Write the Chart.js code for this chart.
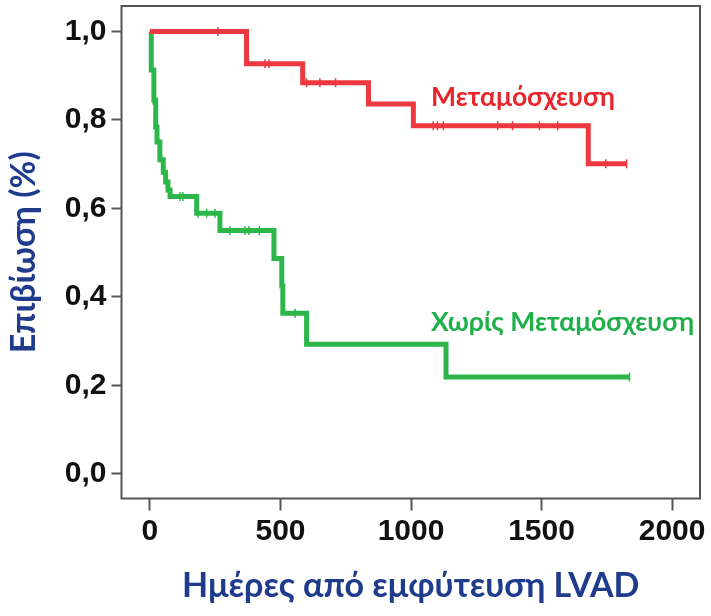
<!DOCTYPE html>
<html><head><meta charset="utf-8">
<script src="https://cdn.jsdelivr.net/npm/chart.js@4"></script>
<style>html,body{margin:0;padding:0;background:#fff;}#wrap{width:711px;height:616px;}</style>
</head><body><div id="wrap"><canvas id="c" width="711" height="616"></canvas></div>
<script>
// ---- data ----
const xTicks = [0, 500, 1000, 1500, 2000];
const yTicks = [0.0, 0.2, 0.4, 0.6, 0.8, 1.0];

// Transplant (Μεταμόσχευση) – event times (days) and survival after each step
const txTimes = [0, 370, 585, 837, 1009, 1679, 1826];
const txSurv  = [1.0, 0.927, 0.884, 0.836, 0.787, 0.701, 0.701];
// censored observations
const txCensT = [260, 441, 456, 600, 651, 711, 1085, 1101, 1124, 1332, 1389, 1492, 1562, 1746, 1826];
const txCensS = [1.0, 0.927, 0.927, 0.884, 0.884, 0.884, 0.787, 0.787, 0.787, 0.787, 0.787, 0.787, 0.787, 0.701, 0.701];

// No transplant (Χωρίς Μεταμόσχευση)
const noTimes = [0, 5, 15, 22, 27, 38, 51, 60, 69, 77, 179, 268, 475, 505, 509, 600, 1134, 1837];
const noSurv  = [1.0, 0.913, 0.845, 0.784, 0.750, 0.710, 0.682, 0.660, 0.642, 0.627, 0.589, 0.550, 0.487, 0.425, 0.363, 0.293, 0.219, 0.219];
const noCensT = [12, 33, 45, 115, 126, 184, 217, 249, 306, 364, 379, 419, 556, 1837];
const noCensS = [0.845, 0.750, 0.710, 0.627, 0.627, 0.589, 0.589, 0.589, 0.550, 0.550, 0.550, 0.550, 0.363, 0.219];

const txLabel = 'Μεταμόσχευση';
const noLabel = 'Χωρίς Μεταμόσχευση';
const xTitle = 'Ημέρες από εμφύτευση LVAD';
const yTitle = 'Επιβίωση (%)';

const RED = '#EE3840', GREEN = '#2DB64A', NAVY = '#1F3C8C', FRAME = '#555555';
const TITLE_FAMILY = 'Lato, "Open Sans", sans-serif';
const pts = (t, s) => t.map((v, i) => ({x: v, y: s[i]}));

const frame = {
  id: 'frame',
  beforeDatasetsDraw(chart) {
    const {ctx, chartArea: a} = chart;
    ctx.save(); ctx.strokeStyle = FRAME; ctx.lineWidth = 2;
    ctx.strokeRect(a.left, a.top, a.right - a.left, a.bottom - a.top);
    ctx.restore();
  }
};
const labels = {
  id: 'labels',
  afterDatasetsDraw(chart) {
    const {ctx} = chart;
    ctx.save();
    ctx.font = 'bold 26.5px ' + TITLE_FAMILY;
    ctx.textBaseline = 'middle'; ctx.textAlign = 'left';
    ctx.fillStyle = '#E8262C'; ctx.fillText(txLabel, 431, 97);
    ctx.fillStyle = '#20B04B'; ctx.fillText(noLabel, 431, 322);
    ctx.restore();
  }
};

const tickFont = {family: '"Liberation Sans", Arial, sans-serif', weight: 'bold', size: 30};
new Chart(document.getElementById('c'), {
  type: 'line',
  data: {
    datasets: [
      {data: pts(txTimes, txSurv), borderColor: RED, borderWidth: 5, stepped: 'before', pointRadius: 0, fill: false},
      {data: pts(noTimes, noSurv), borderColor: GREEN, borderWidth: 5, stepped: 'before', pointRadius: 0, fill: false},
      {type: 'scatter', data: pts(txCensT, txCensS), pointStyle: 'line', rotation: 90, radius: 4.5, borderColor: RED, borderWidth: 1.5, showLine: false},
      {type: 'scatter', data: pts(noCensT, noCensS), pointStyle: 'line', rotation: 90, radius: 4.5, borderColor: GREEN, borderWidth: 1.5, showLine: false}
    ]
  },
  options: {
    responsive: false, animation: false,
    layout: {padding: {left: 0, right: 11, top: 6, bottom: 0}},
    plugins: {legend: {display: false}, tooltip: {enabled: false}},
    scales: {
      x: {
        type: 'linear', min: -109, max: 2107,
        afterBuildTicks: s => { s.ticks = xTicks.map(v => ({value: v})); },
        afterFit: s => { s.height = 117.5; s.paddingLeft = 0; s.paddingRight = 0; },
        border: {display: false},
        grid: {drawOnChartArea: false, drawTicks: true, tickLength: 12, tickWidth: 2, tickColor: FRAME},
        ticks: {font: tickFont, color: '#111', padding: 3, maxRotation: 0, autoSkip: false, callback: v => String(v)},
        title: {display: true, text: xTitle, color: NAVY, font: {family: TITLE_FAMILY, weight: 'bold', size: 34}, padding: {top: 0, bottom: 10}}
      },
      y: {
        type: 'linear', min: -0.0554, max: 1.0576,
        afterBuildTicks: s => { s.ticks = yTicks.map(v => ({value: v})); },
        afterFit: s => { s.width = 121.5; s.paddingTop = 0; s.paddingBottom = 0; },
        border: {display: false},
        grid: {drawOnChartArea: false, drawTicks: true, tickLength: 10, tickWidth: 2, tickColor: FRAME},
        ticks: {font: tickFont, color: '#111', padding: 5, callback: v => v.toFixed(1).replace('.', ',')},
        title: {display: true, text: yTitle, color: NAVY, font: {family: TITLE_FAMILY, weight: 'bold', size: 34}, padding: {top: 4, bottom: 0}}
      }
    }
  },
  plugins: [frame, labels]
});
</script></body></html>
